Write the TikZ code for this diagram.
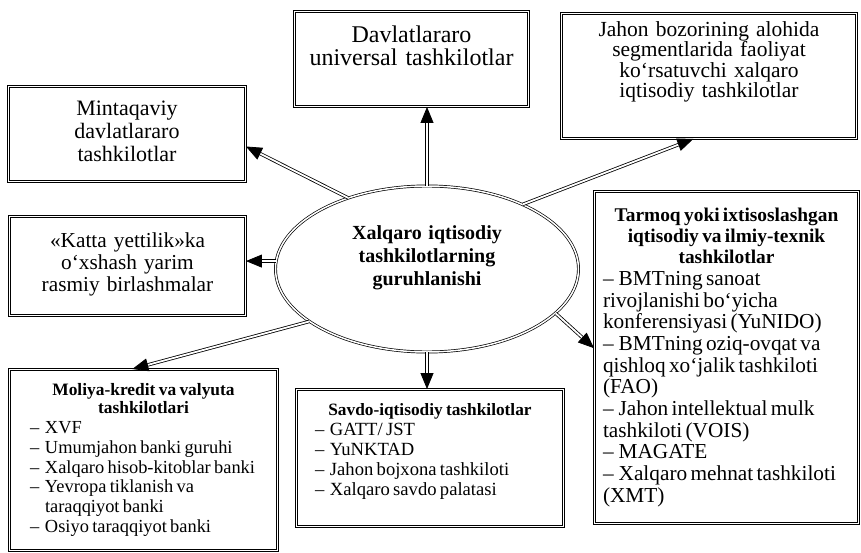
\documentclass[tikz,border=0pt]{standalone}
\usepackage{fontspec}
\setmainfont{Liberation Serif}
\usetikzlibrary{arrows.meta,shapes.geometric}

\newcommand\fs[2]{\fontsize{#1}{#2}\selectfont}
\newcommand\ditem[1]{\par\hangindent=20pt\hangafter=1\noindent
  \makebox[20pt][l]{\hspace{5pt}–}#1\par}
\newcommand\dash{–\hspace{5pt}}
% extra room under the text, so that it sits higher in its box
\newcommand\lift[1]{\par\vspace*{#1}\hrule height0pt depth0pt width0pt}

\begin{document}
\begin{tikzpicture}[x=1pt, y=-1pt,
  box/.style={draw, double, double distance=1.8pt, line width=0.9pt,
    inner sep=0pt},
  conn/.style={double, double distance=1.8pt, line width=0.8pt,
    -{Triangle[length=16pt, width=13pt]}}]
\useasboundingbox (0,0) rectangle (861,553);

\node[draw, ellipse, double, double distance=1.5pt, line width=0.7pt,
  inner sep=0pt, minimum width=303pt, minimum height=166pt,
  text width=190pt, align=center, font=\bfseries\fs{20}{23}] (ell)
  at (427,269) {Xalqaro iqtisodiy\\ tashkilotlarning\\ guruhlanishi\lift{22pt}};

\node[box, minimum width=234pt, minimum height=95pt, text width=220pt,
  align=center, font=\fs{24}{23}] (davl) at (411.5,59)
  {Davlatlararo\\ universal tashkilotlar\lift{26pt}};
\node[box, minimum width=237pt, minimum height=95pt, text width=220pt,
  align=center, font=\fs{22}{23}] (mint) at (127,134)
  {Mintaqaviy\\ davlatlararo\\ tashkilotlar\lift{6pt}};
\node[box, minimum width=295pt, minimum height=125pt, text width=280pt,
  align=center, font=\fs{21.5}{20.5}] (jahon) at (709,76)
  {Jahon bozorining alohida\\ segmentlarida faoliyat\\ ko‘rsatuvchi xalqaro\\
  iqtisodiy tashkilotlar\lift{28pt}};
\node[box, minimum width=236pt, minimum height=99pt, text width=220pt,
  align=center, font=\fs{21.3}{22}] (katta) at (127.5,266)
  {«Katta yettilik»ka\\ o‘xshash yarim\\ rasmiy birlashmalar\lift{3pt}};

\node[box, minimum width=268pt, minimum height=181pt, text width=237pt,
  align=left] (moliya) at (143.5,460)
  {{\centering\bfseries\fs{17.4}{18}Moliya-kredit va valyuta\\ tashkilotlari\par}
  \fs{18.4}{19.7}%
  \ditem{XVF}
  \ditem{Umumjahon banki guruhi}
  \ditem{Xalqaro hisob-kitoblar banki}
  \ditem{Yevropa tiklanish va\newline taraqqiyot banki}
  \ditem{Osiyo taraqqiyot banki}};
\node[box, minimum width=267pt, minimum height=137pt, text width=240pt,
  align=left] (savdo) at (430,458)
  {{\centering\bfseries\fs{17.3}{18}Savdo-iqtisodiy tashkilotlar\par}
  \fs{18.6}{20}%
  \ditem{GATT/ JST}
  \ditem{YuNKTAD}
  \ditem{Jahon bojxona tashkiloti}
  \ditem{Xalqaro savdo palatasi}\lift{14pt}};
\node[box, minimum width=264pt, minimum height=332pt, text width=247pt,
  align=left] (tarmoq) at (726.5,357.5)
  {{\centering\bfseries\fs{19.4}{21}Tarmoq yoki ixtisoslashgan\\
  iqtisodiy va ilmiy-texnik\\ tashkilotlar\par}
  \fs{21.3}{21.7}%
  \dash BMTning sanoat\\ rivojlanishi bo‘yicha\\ konferensiyasi (YuNIDO)\par
  \dash BMTning oziq-ovqat va\\ qishloq xo‘jalik tashkiloti\\ (FAO)\par
  \dash Jahon intellektual mulk\\ tashkiloti (VOIS)\par
  \dash MAGATE\par
  \dash Xalqaro mehnat tashkiloti\\ (XMT)\par};

\draw[conn] (ell.north) -- (ell.north |- davl.south);
\draw[conn] (ell.138) -- (mint.-6);
\draw[conn] (ell.34) -- (jahon.-104);
\draw[conn] (ell.177) -- (ell.177 -| katta.east);
\draw[conn] (ell.-156) -- (moliya.97);
\draw[conn] (ell.south) -- (ell.south |- savdo.north);
\draw[conn] (ell.-19) -- (tarmoq.176);
\end{tikzpicture}
\end{document}
